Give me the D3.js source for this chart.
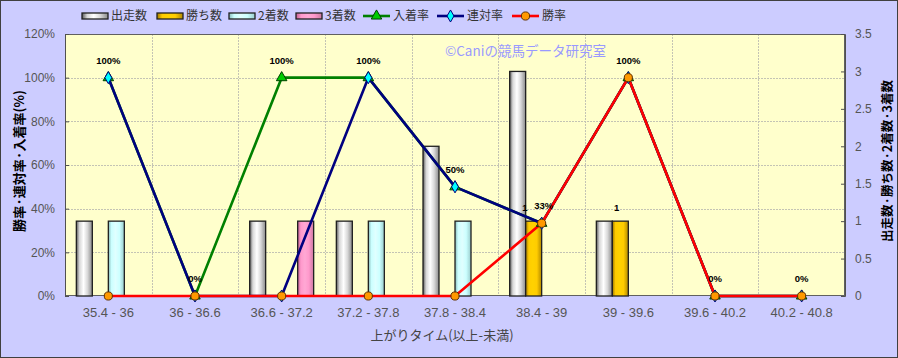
<!DOCTYPE html>
<html><head><meta charset="utf-8">
<script src="https://cdn.jsdelivr.net/npm/d3@7"></script>
<style>
html,body{margin:0;padding:0;background:#ccccff;}
svg{display:block;}
</style></head>
<body>
<svg id="chart" width="898" height="358"></svg>
<script>
// ---- data ----
const categories = ["35.4 - 36","36 - 36.6","36.6 - 37.2","37.2 - 37.8","37.8 - 38.4","38.4 - 39","39 - 39.6","39.6 - 40.2","40.2 - 40.8"];
const runs   = [1,0,1,1,2,3,1,0,0];   // 出走数
const wins   = [0,0,0,0,0,1,1,0,0];   // 勝ち数
const second = [1,0,0,1,1,0,0,0,0];   // 2着数
const third  = [0,0,1,0,0,0,0,0,0];   // 3着数
const placeRate = [100,0,100,100,50,33.3,100,0,0]; // 入着率
const quinRate  = [100,0,0,100,50,33.3,100,0,0];   // 連対率
const winRate   = [0,0,0,0,0,33.3,100,0,0];        // 勝率
const leftTicks = [0,20,40,60,80,100,120];
const rightTicks = [0,0.5,1,1.5,2,2.5,3,3.5];

const svg = d3.select("#chart");
const W = 898, H = 358;
const plot = {l:65, r:845, t:34, b:296};
const jp = "'Noto Sans CJK JP','Noto Sans',sans-serif";
const lat = "'Liberation Sans',Arial,sans-serif";

svg.append("rect").attr("x",0.5).attr("y",0.5).attr("width",W-1).attr("height",H-1)
  .attr("fill","#ccccff").attr("stroke","#404040").attr("stroke-width",1);

// gradients
const defs = svg.append("defs");
function grad(id, edgeL, mid, light, edgeR){
  const g = defs.append("linearGradient").attr("id",id).attr("x1",0).attr("x2",1).attr("y1",0).attr("y2",0);
  [[0,edgeL],[0.2,mid],[0.45,light],[0.7,mid],[1,edgeR]].forEach(s=>g.append("stop").attr("offset",s[0]).attr("stop-color",s[1]));
}
grad("gRun","#5a5a5a","#d8d8d8","#ffffff","#8a8a8a");
grad("gWin","#a07800","#ffcc00","#ffd200","#b08800");
grad("gSec","#88bbbb","#ccffff","#e0ffff","#99cccc");
grad("gThi","#c06090","#ff99cc","#ffa8d4","#cc7aa0");

const x = d3.scaleBand().domain(categories).range([plot.l, plot.r]).padding(0);
const yL = d3.scaleLinear().domain([0,120]).range([plot.b, plot.t]);
const yR = d3.scaleLinear().domain([0,3.5]).range([plot.b, plot.t]);
const barKeys = ["run","win","sec","thi"];
const barW = 16;
const sub = d3.scaleBand().domain(barKeys)
  .range([x.bandwidth()/2 - 2*barW, x.bandwidth()/2 + 2*barW]).padding(0);

// plot background
svg.append("rect").attr("x",plot.l).attr("y",plot.t).attr("width",plot.r-plot.l).attr("height",plot.b-plot.t)
  .attr("fill","#ffffcc");

// gridlines
const grid = svg.append("g").attr("stroke","#c4c4b4").attr("stroke-dasharray","2,1").attr("stroke-width",1);
leftTicks.filter(t=>t>0 && t<120).forEach(t=>{
  grid.append("line").attr("x1",plot.l).attr("x2",plot.r).attr("y1",Math.round(yL(t))+0.5).attr("y2",Math.round(yL(t))+0.5);
});
categories.slice(1).forEach(c=>{
  const xx = Math.round(x(c))+0.5;
  grid.append("line").attr("x1",xx).attr("x2",xx).attr("y1",plot.t).attr("y2",plot.b);
});
svg.append("rect").attr("x",plot.l+0.5).attr("y",plot.t+0.5).attr("width",plot.r-plot.l-1).attr("height",plot.b-plot.t-1)
  .attr("fill","none").attr("stroke","#606060");

// bars
const barSeries = [
  {key:"run", vals:runs, fill:"url(#gRun)"},
  {key:"win", vals:wins, fill:"url(#gWin)"},
  {key:"sec", vals:second, fill:"url(#gSec)"},
  {key:"thi", vals:third, fill:"url(#gThi)"}
];
barSeries.forEach(s=>{
  svg.append("g").selectAll("rect").data(s.vals.map((v,i)=>({v,c:categories[i]})).filter(d=>d.v>0))
    .join("rect")
    .attr("x",d=>x(d.c)+sub(s.key))
    .attr("y",d=>yR(d.v))
    .attr("width",sub.bandwidth())
    .attr("height",d=>yR(0)-yR(d.v))
    .attr("fill",s.fill).attr("stroke","#202020").attr("stroke-width",1.3);
});

// axes
const axL = svg.append("g").attr("transform",`translate(${plot.l},0)`)
  .call(d3.axisLeft(yL).tickValues(leftTicks).tickFormat(d=>d+"%").tickSize(-4).tickPadding(10));
const axR = svg.append("g").attr("transform",`translate(${plot.r},0)`)
  .call(d3.axisRight(yR).tickValues(rightTicks).tickFormat(d=>d).tickSize(-4).tickPadding(10));
const axB = svg.append("g").attr("transform",`translate(0,${plot.b})`)
  .call(d3.axisBottom(x).tickSize(0).tickPadding(10));
[axL,axR,axB].forEach(a=>{
  a.select(".domain").attr("stroke","#505050");
  a.selectAll(".tick line").attr("stroke","#505050");
  a.selectAll("text").attr("font-family",lat).attr("font-size","12px").attr("fill","#555");
});
axB.select(".domain").remove();
axB.selectAll("text").attr("font-size","13px").attr("dy","0.85em");

// lines
const lineSeries = [
  {name:"入着率", vals:placeRate, color:"#008000", sym:d3.symbolTriangle, size:48, mfill:"#00cc00", mstroke:"#004000"},
  {name:"連対率", vals:quinRate, color:"#000080", sym:d3.symbolDiamond, size:42, mfill:"#00ffff", mstroke:"#000080"},
  {name:"勝率", vals:winRate, color:"#ff0000", sym:d3.symbolCircle, size:52, mfill:"#ff9900", mstroke:"#603000"}
];
const line = d3.line().x((d,i)=>x(categories[i])+x.bandwidth()/2).y(d=>yL(d));
lineSeries.forEach(s=>{
  svg.append("path").datum(s.vals).attr("d",line).attr("fill","none")
    .attr("stroke",s.color).attr("stroke-width",2.6).attr("stroke-linejoin","round");
});
lineSeries.forEach(s=>{
  svg.append("g").selectAll("path").data(s.vals).join("path")
    .attr("transform",(d,i)=>`translate(${x(categories[i])+x.bandwidth()/2},${yL(d)})`)
    .attr("d",d3.symbol().type(s.sym).size(s.size))
    .attr("fill",s.mfill).attr("stroke",s.mstroke).attr("stroke-width",1);
});

// data labels: 入着率
svg.append("g").selectAll("text").data(placeRate).join("text")
  .attr("x",(d,i)=>x(categories[i])+x.bandwidth()/2 + (i===5?2:0))
  .attr("y",d=>yL(d)-14)
  .attr("text-anchor","middle")
  .attr("font-family",lat).attr("font-weight","bold").attr("font-size","9.5px").attr("fill","#000")
  .text(d=>Math.round(d)+"%");
// data labels: 勝ち数
svg.append("g").selectAll("text").data(wins.map((v,i)=>({v,c:categories[i]})).filter(d=>d.v>0)).join("text")
  .attr("x",d=>x(d.c)+sub("win")+sub.bandwidth()/2-3)
  .attr("y",d=>yR(d.v)-10)
  .attr("text-anchor","end")
  .attr("dx",d=>d.c===categories[5]?-3:2)
  .attr("font-family",lat).attr("font-weight","bold").attr("font-size","9.5px").attr("fill","#000")
  .text(d=>d.v);

// watermark
svg.append("text").attr("x",445).attr("y",56).attr("font-family",jp).attr("font-size","13.5px")
  .attr("fill","#9999ff").text("©Caniの競馬データ研究室");

// axis titles
svg.append("text").attr("transform",`translate(442,340)`).attr("text-anchor","middle")
  .attr("font-family",jp).attr("font-size","13px").attr("fill","#444").text("上がりタイム(以上-未満)");
svg.append("text").attr("transform",`translate(24,161) rotate(-90)`).attr("text-anchor","middle")
  .attr("font-family",jp).attr("font-size","13px").attr("font-weight","bold").attr("fill","#000").text("勝率·連対率·入着率(%)");
svg.append("text").attr("transform",`translate(892,161) rotate(-90)`).attr("text-anchor","middle")
  .attr("font-family",jp).attr("font-size","12.5px").attr("font-weight","bold").attr("fill","#000").text("出走数·勝ち数·2着数·3着数");

// legend
const legendItems = [
  {name:"出走数", type:"bar", fill:"url(#gRun)"},
  {name:"勝ち数", type:"bar", fill:"url(#gWin)"},
  {name:"2着数", type:"bar", fill:"url(#gSec)"},
  {name:"3着数", type:"bar", fill:"url(#gThi)"},
  {name:"入着率", type:"line", s:lineSeries[0]},
  {name:"連対率", type:"line", s:lineSeries[1]},
  {name:"勝率", type:"line", s:lineSeries[2]}
];
const legendX = [82,157,229,296,363,437,512];
const lg = svg.append("g");
legendItems.forEach((it,i)=>{
  const g = lg.append("g").attr("transform",`translate(${legendX[i]},16)`);
  if(it.type==="bar"){
    g.append("rect").attr("x",0).attr("y",-3).attr("width",26).attr("height",6)
      .attr("fill",it.fill).attr("stroke","#202020").attr("stroke-width",1.3);
  } else {
    g.append("line").attr("x1",0).attr("x2",27).attr("y1",0).attr("y2",0).attr("stroke",it.s.color).attr("stroke-width",2.6);
    g.append("path").attr("transform","translate(13.5,0)").attr("d",d3.symbol().type(it.s.sym).size(it.s.size))
      .attr("fill",it.s.mfill).attr("stroke",it.s.mstroke).attr("stroke-width",1);
  }
  g.append("text").attr("x",it.type==="bar"?29:30).attr("y",0).attr("dy","0.36em")
    .attr("font-family",jp).attr("font-size","12px").attr("fill","#333").text(it.name);
});
</script>
</body></html>
